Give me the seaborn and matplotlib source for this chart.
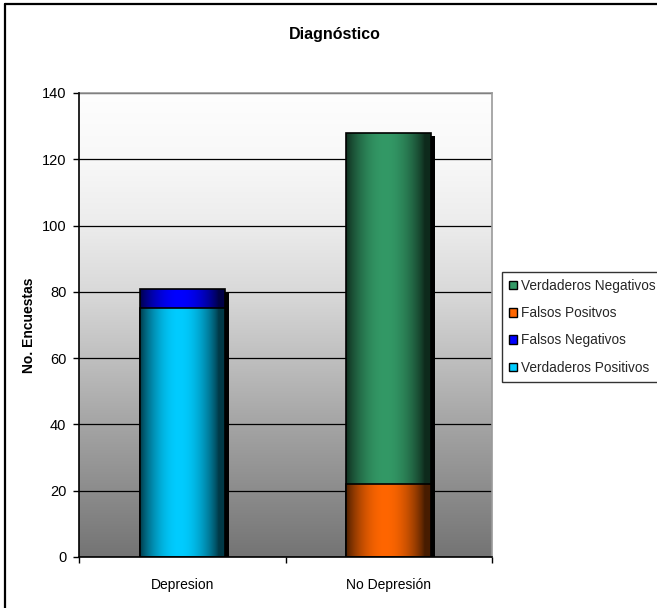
import numpy as np
import pandas as pd
import matplotlib
matplotlib.use("Agg")
import matplotlib.pyplot as plt
import matplotlib.patheffects as pe
from matplotlib.patches import Rectangle, Patch
from matplotlib.lines import Line2D
import seaborn as sns

# ---- data ----
categories = ["Depresion", "No Depresión"]
verdaderos_positivos = [75, 0]
falsos_negativos = [6, 0]
falsos_positivos = [0, 22]
verdaderos_negativos = [0, 106]
y_ticks = [0, 20, 40, 60, 80, 100, 120, 140]

series_names = ["Verdaderos Negativos", "Falsos Positvos",
                "Falsos Negativos", "Verdaderos Positivos"]
series_colors = {"Verdaderos Negativos": "#339966",
                 "Falsos Positvos": "#FF6600",
                 "Falsos Negativos": "#0000FF",
                 "Verdaderos Positivos": "#00CCFF"}

sns.set_theme(style="white")
plt.rcParams["font.family"] = ["Liberation Sans", "DejaVu Sans"]

df = pd.DataFrame({
    "categoria": categories,
    "VP": verdaderos_positivos,
    "FN": falsos_negativos,
    "FP": falsos_positivos,
    "VN": verdaderos_negativos,
})
# lower segment of each stack and the full stack height
df["inferior"] = df["VP"] + df["FP"]
df["total"] = df["VP"] + df["FN"] + df["FP"] + df["VN"]
upper_colors = [series_colors["Falsos Negativos"], series_colors["Verdaderos Negativos"]]
lower_colors = [series_colors["Verdaderos Positivos"], series_colors["Falsos Positvos"]]

W, H = 657, 608
fig = plt.figure(figsize=(W / 100, H / 100), dpi=100)
fig.patch.set_facecolor("white")
ax = fig.add_axes([79 / W, 1 - 557 / H, (492 - 79) / W, (557 - 93) / H])

# plot-area background: vertical gray gradient
stops_y = np.array([0, 20, 40, 60, 80, 100, 120, 140])
stops_v = np.array([0.455, 0.55, 0.645, 0.75, 0.85, 0.925, 0.972, 0.995])
yy = np.linspace(140, 0, 300)
vv = np.interp(yy, stops_y, stops_v)
bg = np.repeat(vv[:, None, None], 3, axis=2)
ax.imshow(bg, extent=(-0.5, 1.5, 0, 140), aspect="auto", zorder=0,
          interpolation="bilinear")

shadow = [pe.SimplePatchShadow(offset=(2.9, -2.2), shadow_rgbFace="black", alpha=1.0),
          pe.Normal()]

# horizontal shading across each bar (dark edges, bright center)
t = np.linspace(0, 1, 200)
shade = 0.28 + 0.72 * np.clip(np.sin(np.pi * np.clip(t * 1.08, 0, 1)), 0, 1) ** 0.8


def dress_bars(patches, colors, z):
    for p, c in zip(patches, colors):
        p.set_zorder(z)
        p.set_edgecolor("none")
        p.set_path_effects(shadow)
        rgb = np.array(matplotlib.colors.to_rgb(c))
        grad = (shade[:, None] * rgb[None, :])[None, :, :]
        x0, y0, w, h = p.get_x(), p.get_y(), p.get_width(), p.get_height()
        im = ax.imshow(grad, extent=(x0, x0 + w, y0, y0 + h), aspect="auto",
                       zorder=z + 0.1, interpolation="bilinear")
        im.set_clip_path(p)
        ax.add_patch(Rectangle((x0, y0), w, h, fill=False, edgecolor="black",
                               lw=1.2, zorder=z + 0.2))


n0 = len(ax.patches)
sns.barplot(data=df, x="categoria", y="total", hue="categoria",
            palette=upper_colors, width=0.41, saturation=1, legend=False, ax=ax)
upper = list(ax.patches[n0:])
dress_bars(upper, upper_colors, 2)

n1 = len(ax.patches)
sns.barplot(data=df, x="categoria", y="inferior", hue="categoria",
            palette=lower_colors, width=0.41, saturation=1, legend=False, ax=ax)
lower = [p for p in ax.patches[n1:] if not isinstance(p, Rectangle) or p.get_fill()]
dress_bars(lower, lower_colors, 3)

ax.set_xlim(-0.5, 1.5)
ax.set_ylim(0, 140)
ax.set_yticks(y_ticks)
ax.set_yticklabels([str(v) for v in y_ticks])
ax.set_xticks([0, 1])
ax.set_xticklabels(categories)
ax.set_xticks([-0.5, 0.5, 1.5], minor=True)
ax.tick_params(axis="x", which="major", length=0, pad=15, labelsize=10, colors="black")
ax.tick_params(axis="x", which="minor", length=4, width=1, direction="out",
               bottom=True, color="black")
ax.tick_params(axis="y", length=4, width=1, direction="out", left=True, pad=5,
               labelsize=10.5, colors="black")
ax.set_axisbelow(True)
ax.yaxis.grid(True, color="black", lw=0.9)
ax.xaxis.grid(False)
for s in ["left", "bottom"]:
    ax.spines[s].set_color("black")
    ax.spines[s].set_linewidth(1.2)
    ax.spines[s].set_zorder(5)
for s in ["top", "right"]:
    ax.spines[s].set_color("#9a9a9a")
    ax.spines[s].set_linewidth(1.2)
ax.set_xlabel("")
ax.set_ylabel("No. Encuestas", fontsize=10, fontweight="bold", color="black")
ax.yaxis.set_label_coords(-0.105, 0.5)

fig.text(335 / W, 1 - 34 / H, "Diagnóstico", ha="center", va="center",
         fontsize=11.5, fontweight="bold", color="black")

handles = [Patch(facecolor=series_colors[n], edgecolor="black", lw=1) for n in series_names]
leg = fig.legend(handles, series_names, loc="upper left",
                 bbox_to_anchor=(502 / W, 1 - 272 / H), fontsize=9.8,
                 frameon=True, fancybox=False, edgecolor="black",
                 handlelength=0.6, handleheight=0.6, handletextpad=0.3,
                 labelspacing=0.98, borderpad=0.5, borderaxespad=0)
leg.get_frame().set_linewidth(1)

# chart outline (left and top edges)
fig.add_artist(Line2D([5 / W, 5 / W], [0, 1 - 4 / H], color="black", lw=1.6))
fig.add_artist(Line2D([5 / W, 1], [1 - 4 / H, 1 - 4 / H], color="black", lw=1.6))

fig.savefig("out.png", dpi=100)
